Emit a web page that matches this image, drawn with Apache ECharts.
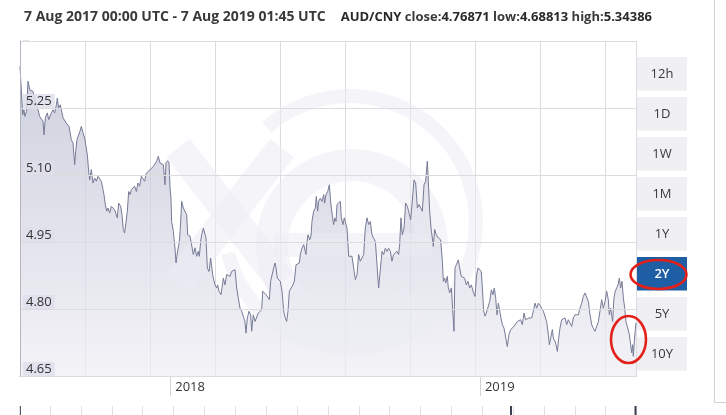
<!DOCTYPE html>
<html><head><meta charset="utf-8">
<script src="https://cdn.jsdelivr.net/npm/echarts@6/dist/echarts.min.js"></script>
<style>html,body{margin:0;padding:0;background:#fff}#c{width:726px;height:415px}</style>
</head><body><div id="c"></div>
<script>
// [day since 7 Aug 2017, AUD/CNY rate]
const ratesPart1 = [[0,5.343],[3.2,5.235],[4.7,5.246],[5.9,5.231],[7.5,5.242],[9.5,5.310],[11.5,5.291],[13.4,5.295],[15.4,5.287],[19.4,5.257],[21.3,5.246],[23.3,5.231],[25.3,5.235],[27.3,5.220],[28.4,5.190],[30.0,5.228],[32.4,5.239],[34.0,5.224],[36.0,5.220],[37.1,5.239],[39.1,5.246],[41.1,5.239],[43.1,5.257],[44.2,5.272],[45.8,5.250],[47.8,5.257],[49.8,5.239],[51.0,5.228],[52.9,5.224],[54.9,5.216],[56.9,5.220],[58.1,5.209],[59.6,5.205],[60.8,5.179],[62.8,5.172],[64.8,5.123],[66.0,5.153],[67.5,5.179],[69.5,5.190],[71.1,5.198],[72.7,5.209],[74.7,5.194],[76.6,5.183],[78.6,5.179],[79.8,5.145],[81.4,5.108],[82.6,5.089],[84.5,5.112],[86.5,5.082],[88.5,5.093],[90.5,5.086],[92.4,5.097],[94.4,5.093],[96.4,5.086],[98.4,5.067],[99.5,5.056],[101.1,5.034],[102.7,5.019],[104.3,5.026],[106.3,5.015],[108.2,5.030],[110.2,5.026],[112.2,5.022],[114.2,5.019],[115.3,5.004],[116.9,5.037],[119.3,5.030],[120.9,5.011],[122.4,4.978],[124.0,4.970],[126.0,4.974],[127.2,5.019],[128.8,5.063],[130.4,5.056],[131.9,5.067],[133.9,5.063],[135.9,5.075],[137.9,5.063],[139.8,5.082],[141.8,5.075],[143.8,5.097],[145.8,5.093],[147.7,5.086],[149.7,5.104],[151.7,5.108]];
const ratesPart2 = [[154.1,5.112],[156.0,5.108],[158.0,5.119],[160.0,5.116],[162.0,5.131],[163.9,5.142],[165.9,5.127],[167.9,5.131],[169.9,5.123],[171.8,5.078],[173.0,5.127],[175.0,5.132],[176.6,5.127],[177.8,5.071],[178.9,5.048],[179.7,4.996],[181.7,4.974],[183.7,4.936],[184.9,4.903],[186.4,4.925],[187.6,4.922],[188.8,4.951],[190.0,4.981],[191.6,5.041],[193.6,5.026],[195.5,5.022],[197.5,5.011],[198.7,4.966],[200.3,4.970],[201.5,4.963],[203.4,4.959],[205.4,4.922],[207.4,4.937],[209.4,4.918],[211.3,4.929],[212.5,4.918],[214.1,4.951],[215.3,4.966],[217.3,4.981],[219.2,4.978],[220.4,4.959],[222.0,4.892],[224.0,4.884],[225.9,4.914],[227.1,4.918],[228.3,4.877],[229.9,4.873],[231.1,4.854],[233.1,4.847],[234.2,4.854],[235.8,4.840],[238.2,4.832],[239.8,4.828],[241.0,4.869],[242.9,4.854],[244.9,4.877],[246.9,4.881],[248.9,4.873],[250.8,4.884],[252.8,4.881],[254.8,4.888],[256.8,4.847],[258.7,4.825],[260.7,4.802],[262.7,4.795],[264.7,4.798],[266.6,4.772],[267.8,4.746],[269.4,4.780],[271.4,4.795],[273.4,4.787],[274.5,4.750],[276.5,4.787],[278.5,4.772],[280.5,4.769],[282.4,4.791],[284.4,4.787],[286.4,4.798],[287.6,4.840],[289.5,4.836],[291.5,4.832],[293.5,4.832],[295.5,4.821],[297.0,4.862],[299.0,4.862],[300.6,4.892],[302.2,4.903],[303.4,4.892],[305.0,4.869],[306.5,4.869],[308.5,4.862],[310.5,4.840],[312.5,4.795],[314.4,4.780],[316.0,4.772],[317.6,4.795],[319.2,4.840],[321.5,4.843],[323.5,4.854],[325.1,4.862],[327.1,4.899],[329.4,4.899],[331.0,4.903],[332.2,4.922],[334.2,4.936],[336.2,4.944],[337.3,4.940],[338.9,4.922],[340.1,4.951],[341.3,4.966],[343.3,4.955],[344.8,4.963],[346.0,4.996],[348.0,5.019],[350.0,5.026],[351.2,5.052],[352.7,5.019],[353.9,5.041],[355.9,5.048],[357.9,5.041],[359.9,5.056],[361.0,5.037],[362.6,5.056],[364.6,5.063],[366.6,5.078],[367.8,5.048],[368.9,5.026],[370.5,5.004],[371.7,4.989],[372.9,5.004],[374.5,4.996],[375.7,5.034],[377.6,5.030],[379.6,5.041],[380.8,5.004],[382.8,4.989],[384.3,5.004],[385.5,5.007],[387.5,4.981],[389.5,4.918],[391.5,4.914],[393.4,4.918],[395.4,4.914],[397.4,4.866],[399.4,4.877],[401.3,4.922],[403.3,4.907],[405.3,4.903],[407.3,4.922],[409.2,4.981],[411.2,5.004],[413.2,4.989],[415.2,4.996],[417.1,4.966],[419.1,4.966],[421.1,4.951],[423.1,4.899],[425.0,4.847],[427.0,4.847],[429.0,4.929],[431.0,4.922],[432.9,4.936],[434.9,4.929],[436.9,4.936],[438.9,4.929],[440.8,4.907],[442.8,4.922],[444.8,4.918],[446.8,4.929],[448.7,4.922],[449.9,4.944],[451.5,5.004]];
const ratesPart3 = [[453.1,4.966],[455.1,4.981],[457.0,5.037],[459.0,5.030],[461.0,5.034],[463.0,5.000],[464.9,5.041],[466.9,5.089],[468.9,5.082],[470.9,5.026],[472.8,5.034],[474.8,5.030],[476.8,5.019],[478.8,5.078],[480.7,5.086],[482.7,5.131],[483.9,5.086],[485.5,5.019],[487.1,4.981],[488.6,4.959],[489.8,4.940],[491.4,4.978],[493.4,4.966],[495.8,4.959],[498.5,4.955],[500.5,4.907],[501.7,4.862],[503.3,4.869],[504.4,4.858],[506.4,4.873],[507.6,4.847],[509.2,4.836],[511.2,4.847],[513.1,4.843],[514.3,4.750],[515.5,4.892],[517.1,4.899],[519.5,4.910],[521.0,4.892],[523.0,4.873],[525.0,4.873],[527.0,4.869],[528.9,4.854],[530.9,4.862],[532.9,4.847],[534.9,4.854],[536.8,4.840],[539.2,4.828],[541.2,4.877],[542.8,4.892],[544.7,4.892],[546.7,4.884],[547.9,4.847],[549.5,4.795],[551.1,4.784],[552.6,4.791],[554.6,4.795],[556.6,4.817],[558.6,4.843],[560.5,4.832],[562.1,4.847],[563.7,4.825],[565.3,4.787],[566.9,4.813],[568.4,4.817],[570.0,4.780],[571.6,4.765],[573.6,4.757],[575.5,4.754],[577.5,4.716],[579.5,4.743],[581.5,4.754],[583.4,4.757],[585.4,4.761],[587.4,4.765],[589.4,4.772],[591.3,4.769],[593.3,4.776],[595.3,4.765],[597.3,4.791],[599.2,4.776],[601.2,4.772],[603.2,4.780],[606.4,4.780],[608.3,4.795],[610.3,4.813],[612.3,4.802],[614.3,4.813],[616.2,4.810],[618.2,4.802],[620.2,4.795],[622.2,4.795],[624.1,4.772],[626.1,4.743],[627.3,4.720],[628.9,4.735],[630.9,4.754],[632.0,4.735],[634.0,4.728],[635.2,4.720],[636.8,4.705],[638.4,4.735],[639.9,4.757],[641.9,4.776],[643.9,4.772],[645.9,4.780],[647.8,4.765],[649.8,4.776],[651.8,4.780],[653.8,4.761],[655.7,4.780],[657.7,4.787],[659.7,4.784],[661.7,4.787],[663.6,4.802],[665.6,4.813],[667.6,4.828],[669.6,4.836],[671.5,4.832],[673.5,4.817],[675.5,4.787],[677.5,4.765],[679.4,4.757],[681.4,4.750],[683.4,4.750],[685.4,4.772],[687.3,4.795],[689.3,4.821],[691.3,4.802],[693.3,4.817],[695.2,4.840],[697.2,4.821],[698.4,4.787],[700.0,4.802],[701.2,4.806],[702.3,4.772],[703.9,4.825],[705.5,4.840],[707.1,4.847],[708.7,4.854],[710.2,4.869],[711.8,4.847],[713.4,4.862],[715.0,4.825],[716.6,4.802],[718.1,4.772],[719.7,4.761],[721.3,4.765],[722.1,4.743],[723.7,4.743],[724.9,4.702],[726.0,4.720],[726.8,4.694],[728.0,4.728],[729.2,4.754],[730.0,4.769]];

const yMin = 4.65, yMax = 5.40, yStep = 0.15;
const yearLabels = ['2018', '2019'];
const yearTickDays = [178, 545];
const rangeButtons = ['12h', '1D', '1W', '1M', '1Y', '2Y', '5Y', '10Y'];
const activeButton = '2Y';
const headerRange = '7 Aug 2017 00:00 UTC - 7 Aug 2019 01:45 UTC';
const headerPair = 'AUD/CNY';
const headerStats = [['close:', '4.76871'], ['low:', '4.68813'], ['high:', '5.34386']];

const FONT = '"Open Sans", "Noto Sans", sans-serif';
const series = ratesPart1.concat(ratesPart2, ratesPart3);

let headerText = '{n|' + headerRange + '}{g|}{b|' + headerPair + '}';
headerStats.forEach(s => { headerText += '{m| ' + s[0] + '}{b|' + s[1] + '}'; });

const wm = 'rgba(236,236,243,0.5)';
const graphics = [
  // watermark
  {type: 'arc', z: 5, silent: true, shape: {cx: 350, cy: 222, r: 126, startAngle: Math.PI * 1.27, endAngle: Math.PI * 0.92}, style: {stroke: wm, fill: null, lineWidth: 14}},
  {type: 'arc', z: 5, silent: true, shape: {cx: 352, cy: 245, r: 80, startAngle: Math.PI * 0.22, endAngle: Math.PI * 2}, style: {stroke: wm, fill: null, lineWidth: 32}},
  {type: 'line', z: 5, silent: true, shape: {x1: 274, y1: 245, x2: 432, y2: 245}, style: {stroke: wm, lineWidth: 24}},
  {type: 'line', z: 5, silent: true, shape: {x1: 178, y1: 148, x2: 282, y2: 282}, style: {stroke: wm, lineWidth: 30}},
  {type: 'line', z: 5, silent: true, shape: {x1: 282, y1: 148, x2: 178, y2: 282}, style: {stroke: wm, lineWidth: 30}},
  // right border
  {type: 'polyline', z: 20, silent: true, shape: {points: [[714.5, 0], [714.5, 402.5], [726, 402.5]]}, style: {stroke: '#d2d2d6', fill: null, lineWidth: 1}},
  // navigator edges
  {type: 'line', z: 20, silent: true, shape: {x1: 20.5, y1: 406, x2: 20.5, y2: 415}, style: {stroke: '#55586a', lineWidth: 1}},
  {type: 'line', z: 20, silent: true, shape: {x1: 511, y1: 406, x2: 511, y2: 415}, style: {stroke: '#3d3f52', lineWidth: 2}},
  {type: 'line', z: 20, silent: true, shape: {x1: 635.5, y1: 406, x2: 635.5, y2: 415}, style: {stroke: '#3d3f52', lineWidth: 2}},
];
rangeButtons.forEach((b, i) => {
  const top = 57 + i * 40;
  const on = b === activeButton;
  graphics.push({type: 'rect', z: 20, shape: {x: 637, y: top, width: 50, height: 33.5}, style: {fill: on ? '#1d5ea5' : '#f0f0f4'}});
  graphics.push({type: 'text', z: 21, x: 662, y: top + 17, style: {text: b, fill: on ? '#ffffff' : '#3a3a3a', font: (on ? '600 ' : '') + '13px ' + FONT, align: 'center', verticalAlign: 'middle'}});
});
graphics.push({type: 'ellipse', z: 30, shape: {cx: 658.5, cy: 274.5, rx: 28, ry: 14.5}, style: {fill: null, stroke: '#e3211b', lineWidth: 2.6}});
graphics.push({type: 'ellipse', z: 30, shape: {cx: 628.5, cy: 339.5, rx: 17.5, ry: 23.5}, style: {fill: null, stroke: '#e3211b', lineWidth: 2.6}});

const chart = echarts.init(document.getElementById('c'), null, {renderer: 'canvas'});
chart.setOption({
  animation: false,
  backgroundColor: '#ffffff',
  textStyle: {fontFamily: FONT},
  title: {
    left: 19, top: 3,
    text: headerText,
    textStyle: {
      rich: {
        n: {fontSize: 14, color: '#3a3a3a', fontFamily: FONT},
        m: {fontSize: 13, color: '#3a3a3a', fontFamily: FONT},
        b: {fontSize: 13, color: '#2a2a2a', fontWeight: 'bold', fontFamily: FONT},
        g: {width: 15}
      }
    }
  },
  grid: [
    {left: 20, top: 41, width: 616, height: 335},
    {left: 19.2, top: 406, width: 617, height: 30}
  ],
  xAxis: [
    {
      gridIndex: 0, type: 'value', min: 0, max: 730,
      axisLine: {show: true, lineStyle: {color: '#b3b5c0'}},
      splitLine: {show: false},
      axisTick: {show: true, customValues: yearTickDays, length: 20, lineStyle: {color: '#d4d4d8'}},
      axisLabel: {customValues: yearTickDays, formatter: v => yearLabels[yearTickDays.indexOf(v)] || '',
        align: 'left', padding: [0, 0, 0, 5], margin: 5, color: '#333', fontSize: 13, fontFamily: FONT}
    },
    {
      gridIndex: 0, type: 'value', min: 0, max: 730, interval: 77, position: 'top',
      axisLine: {show: false}, axisTick: {show: false}, axisLabel: {show: false},
      splitLine: {show: true, lineStyle: {color: '#dcdcdf'}}
    },
    {
      gridIndex: 1, type: 'value', min: 0, max: 617, interval: 30.87, position: 'top',
      axisLine: {show: true, lineStyle: {color: '#e0e0e4'}}, axisTick: {show: false}, axisLabel: {show: false},
      splitLine: {show: true, lineStyle: {color: '#e0e0e4'}}
    }
  ],
  yAxis: [
    {
      gridIndex: 0, type: 'value', min: yMin, max: yMax, interval: yStep,
      axisLine: {show: true, lineStyle: {color: '#b3b5c0'}},
      axisTick: {show: false},
      splitLine: {show: true, lineStyle: {color: '#dcdcdf'}},
      axisLabel: {
        inside: true, margin: 3, verticalAlign: 'bottom', align: 'left',
        formatter: v => (v > yMax - 0.01 ? '' : v.toFixed(2)),
        color: '#333', fontSize: 13, fontFamily: FONT,
        backgroundColor: 'rgba(222,223,235,0.85)', padding: [1, 3, 0, 3]
      },
      z: 12
    },
    {gridIndex: 1, type: 'value', min: 0, max: 1, show: false}
  ],
  series: [
    {
      type: 'line', xAxisIndex: 0, yAxisIndex: 0, data: series, showSymbol: false, z: 2,
      lineStyle: {width: 0},
      areaStyle: {origin: 'start', color: new echarts.graphic.LinearGradient(0, 0, 0, 1, [
        {offset: 0, color: '#b9bcd0'}, {offset: 1, color: '#eeeef4'}])}
    },
    {
      type: 'line', xAxisIndex: 0, yAxisIndex: 0, data: series, showSymbol: false, z: 10,
      lineStyle: {width: 1, color: '#767b96'}
    }
  ],
  graphic: graphics
});
</script></body></html>
